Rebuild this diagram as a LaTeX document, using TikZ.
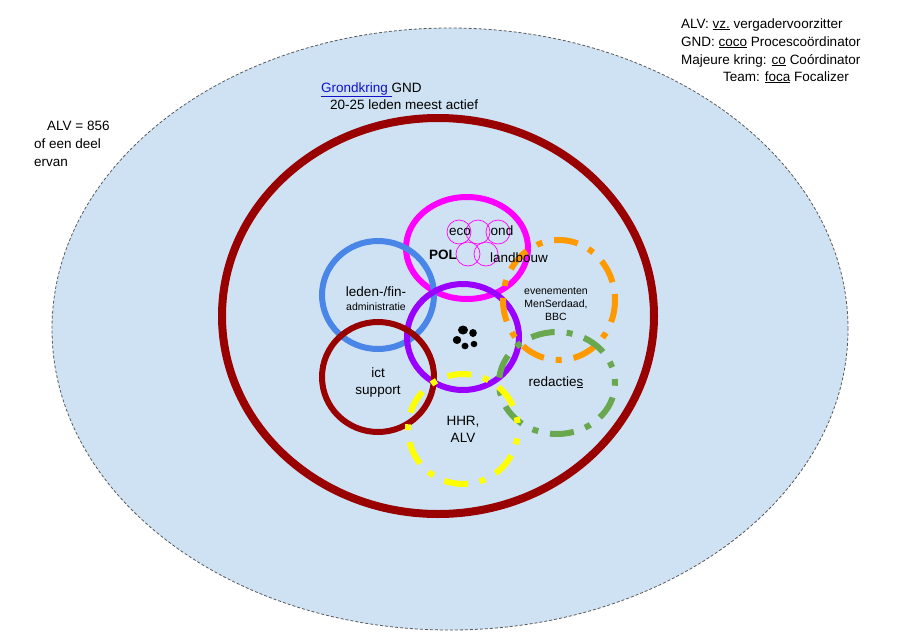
\documentclass[tikz,border=0pt]{standalone}
\usepackage{fontspec}
\setmainfont{Liberation Sans}
\usepackage{tikz}
\usepackage{xcolor}
\usetikzlibrary{positioning}
\definecolor{alvblue}{RGB}{207, 226, 243}
\definecolor{gndred}{RGB}{153, 0, 0}
\definecolor{polmagenta}{RGB}{255, 0, 255}
\definecolor{ledenblue}{RGB}{74, 134, 232}
\definecolor{kernpurple}{RGB}{153, 0, 255}
\definecolor{evorange}{RGB}{255, 153, 0}
\definecolor{redgreen}{RGB}{106, 168, 79}
\definecolor{hhryellow}{RGB}{255, 255, 0}
\definecolor{linkblue}{RGB}{17, 17, 204}

\begin{document}
\begin{tikzpicture}[
    x=1pt, y=-1pt,
    font=\fontsize{13.5}{16}\selectfont,
    ring/.style={draw=#1, line width=6pt},
    dashring/.style={draw=#1, line width=6pt, dash pattern=on 24pt off 12pt on 6pt off 12pt},
    mini/.style={draw=polmagenta, line width=0.7pt},
    txt/.style={inner sep=0pt, anchor=base},
    small/.style={txt, font=\fontsize{10.5}{13}\selectfont}
]

    % --- Canvas ---
    \useasboundingbox (0,0) rectangle (900,640);
    \fill[white] (0,0) rectangle (900,640);

    % --- Coordinates ---
    \coordinate (alv)   at (450, 329);
    \coordinate (gnd)   at (438, 316);
    \coordinate (pol)   at (467, 248);
    \coordinate (leden) at (378, 295);
    \coordinate (kern)  at (463, 337);
    \coordinate (ict)   at (378, 377);
    \coordinate (even)  at (559, 300);
    \coordinate (redac) at (557, 383);
    \coordinate (hhr)   at (463, 429);

    % --- ALV (outer) ---
    \filldraw[fill=alvblue, draw=black!65, line width=0.8pt, dash pattern=on 3pt off 2pt]
        (alv) ellipse [x radius=398pt, y radius=301pt];

    % --- Grondkring ---
    \draw[gndred, line width=8pt] (gnd) ellipse [x radius=216pt, y radius=198pt];

    % --- Teams ---
    \draw[ring=polmagenta] (pol)   ellipse [x radius=61pt, y radius=51pt];
    \draw[ring=ledenblue]  (leden) ellipse [x radius=56pt, y radius=54pt];
    \draw[ring=kernpurple] (kern)  ellipse [x radius=56pt, y radius=53pt];
    \draw[ring=gndred]     (ict)   ellipse [x radius=56pt, y radius=55pt];
    \draw[dashring=evorange, dash phase=36pt]  (even)  ellipse [x radius=56pt, y radius=60pt];
    \draw[dashring=redgreen, dash phase=20pt]  (redac) ellipse [x radius=58pt, y radius=51pt];
    \draw[dashring=hhryellow, dash phase=30pt] (hhr)   ellipse [x radius=55pt, y radius=55pt];

    % --- POL sub circles ---
    \foreach \cx/\cy in {459/232, 478/232, 498/232, 468/254, 486/254}
        \draw[mini] (\cx, \cy) circle [radius=12pt];

    % --- Paw ---
    \fill (463, 330) ellipse [x radius=5pt, y radius=4.5pt];
    \fill (473, 333) ellipse [x radius=3.8pt, y radius=4pt];
    \fill (457, 340) ellipse [x radius=4.2pt, y radius=4pt];
    \fill (465, 346) ellipse [x radius=3.5pt, y radius=3.3pt];
    \fill (474, 344) ellipse [x radius=3.3pt, y radius=3.2pt];

    % --- Legend ---
    \node[txt, anchor=base west] (leg1) at (681, 28) {ALV: \underline{vz.} vergadervoorzitter};
    \node[txt, anchor=base west] (leg2) at (681, 46) {GND: \underline{coco} Procescoördinator};
    \node[txt, anchor=base west] (leg3) at (681, 64) {Majeure kring: \underline{co} Coórdinator};
    \node[txt, anchor=base west] (leg4) at (723, 81) {Team: \underline{foca} Focalizer};

    % --- Labels ---
    \node[txt, anchor=base west] (alvA) at (47, 130) {ALV = 856};
    \node[txt, anchor=base west] (alvB) at (34, 148) {of een deel};
    \node[txt, anchor=base west] (alvC) at (34, 166) {ervan};

    \node[txt, anchor=base west] (gndA) at (321, 92) {\textcolor{linkblue}{\underline{Grondkring }}GND};
    \node[txt, anchor=base west] (gndB) at (330, 109) {20-25 leden meest actief};

    \node[txt] (eco)  at (460, 235) {eco};
    \node[txt] (ond)  at (502, 235) {ond};
    \node[txt, font=\fontsize{13.5}{16}\selectfont\bfseries] (polL) at (443, 259) {POL};
    \node[txt] (land) at (519, 262) {landbouw};

    \node[txt]   (ledA) at (376, 296) {leden-/fin-};
    \node[small] (ledB) at (376, 310) {administratie};

    \node[small] (evA) at (556, 294) {evenementen};
    \node[small] (evB) at (556, 307) {MenSerdaad,};
    \node[small] (evC) at (556, 320) {BBC};

    \node[txt] (redL) at (556, 386) {redactie\underline{s}};

    \node[txt] (ictA) at (378, 377) {ict};
    \node[txt] (ictB) at (378, 394) {support};

    \node[txt] (hhrA) at (463, 425) {HHR,};
    \node[txt] (hhrB) at (463, 442) {ALV};

\end{tikzpicture}
\end{document}
